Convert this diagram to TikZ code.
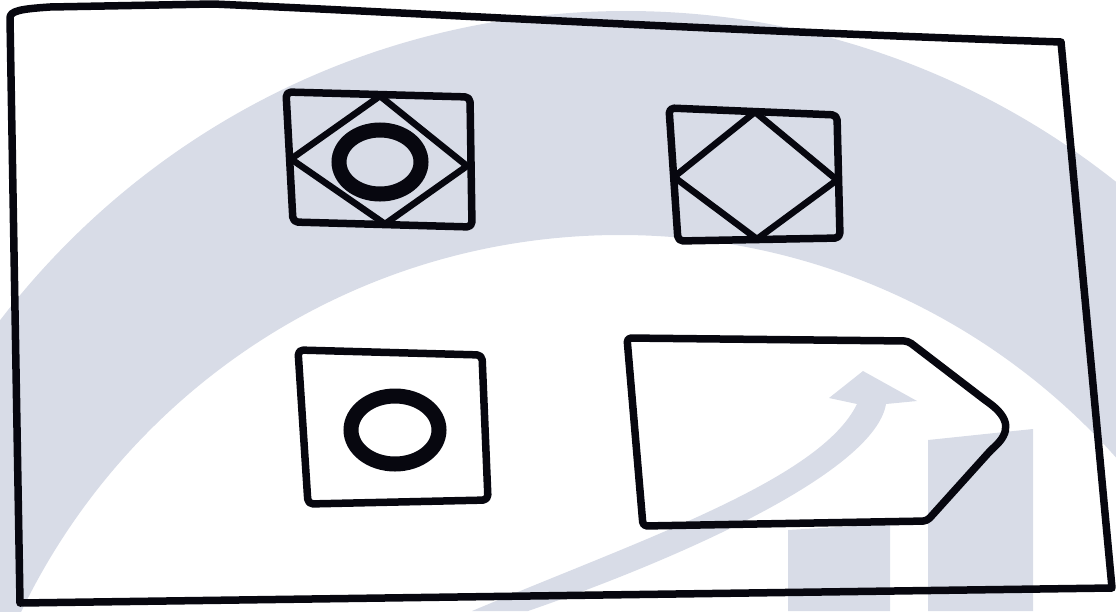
\documentclass[tikz,border=0pt]{standalone}
\definecolor{wm}{HTML}{D8DCE7}
\definecolor{ink}{HTML}{07070F}
\tikzset{
  outline/.style={draw=ink, line width=7.5, line join=round, line cap=round},
  framebox/.style={outline, rounded corners=5},
  diamondline/.style={draw=ink, line width=6.5, line join=round},
  ring/.style={draw=ink, line width=14}
}
\begin{document}
\begin{tikzpicture}[x=1pt,y=-1pt]
\useasboundingbox (0,0) rectangle (1116,611);
% watermark
\begin{scope}
\clip (0,0) rectangle (1116,611);
\fill[wm, even odd rule] (626,799) circle[radius=788] (620,899) circle[radius=664];
\fill[wm] (472,611) .. controls (640,540) and (820,480) .. (857,404)
  -- (829,398) -- (863,371) -- (917,401) -- (886,404)
  .. controls (875,470) and (690,555) .. (528,611) -- cycle;
\fill[wm] (788,530) -- (890,524) -- (890,611) -- (788,611) -- cycle;
\fill[wm] (928,440) -- (1033,429) -- (1033,611) -- (928,611) -- cycle;
\end{scope}
% outer frame
\coordinate (fTL) at (10,18);
\coordinate (fTR) at (1061,42);
\coordinate (fBR) at (1112,588);
\coordinate (fBL) at (20,603);
\draw[outline] (fBL) -- (fTL) .. controls (10,11) and (20,9) .. (50,7) -- (213,4)
  .. controls (400,12) and (700,30) .. (fTR) -- (fBR) -- cycle;
% box 1: square, diamond, ring
\coordinate (aTL) at (286,92);
\coordinate (aTR) at (470,97);
\coordinate (aBR) at (472,227);
\coordinate (aBL) at (293,222);
\draw[framebox] (aTL) -- (aTR) -- (aBR) -- (aBL) -- cycle;
\draw[diamondline] (380,96) -- (467,166) -- (385,224) -- (291,159) -- cycle;
\draw[ring, line width=15] (380,162) ellipse[x radius=41, y radius=32];
% box 2: square, diamond
\coordinate (bTL) at (669,108);
\coordinate (bTR) at (837,115);
\coordinate (bBR) at (840,238);
\coordinate (bBL) at (678,241);
\draw[framebox] (bTL) -- (bTR) -- (bBR) -- (bBL) -- cycle;
\draw[diamondline] (755,112) -- (837,180) -- (757,239) -- (674,177) -- cycle;
% box 3: square, ring
\coordinate (cTL) at (298,350);
\coordinate (cTR) at (482,355);
\coordinate (cBR) at (488,500);
\coordinate (cBL) at (308,504);
\draw[framebox] (cTL) -- (cTR) -- (cBR) -- (cBL) -- cycle;
\draw[ring, line width=15] (395,430) ellipse[x radius=44, y radius=34];
% tag shape
\coordinate (dTL) at (627,338);
\coordinate (dTR) at (908,341);
\coordinate (dBR) at (927,521);
\coordinate (dBL) at (643,526);
\draw[outline, rounded corners=4] (dTL) -- (dTR) -- (985,400)
  .. controls (1010,418) and (1011,432) .. (991,450)
  -- (dBR) -- (dBL) -- cycle;
\end{tikzpicture}
\end{document}
